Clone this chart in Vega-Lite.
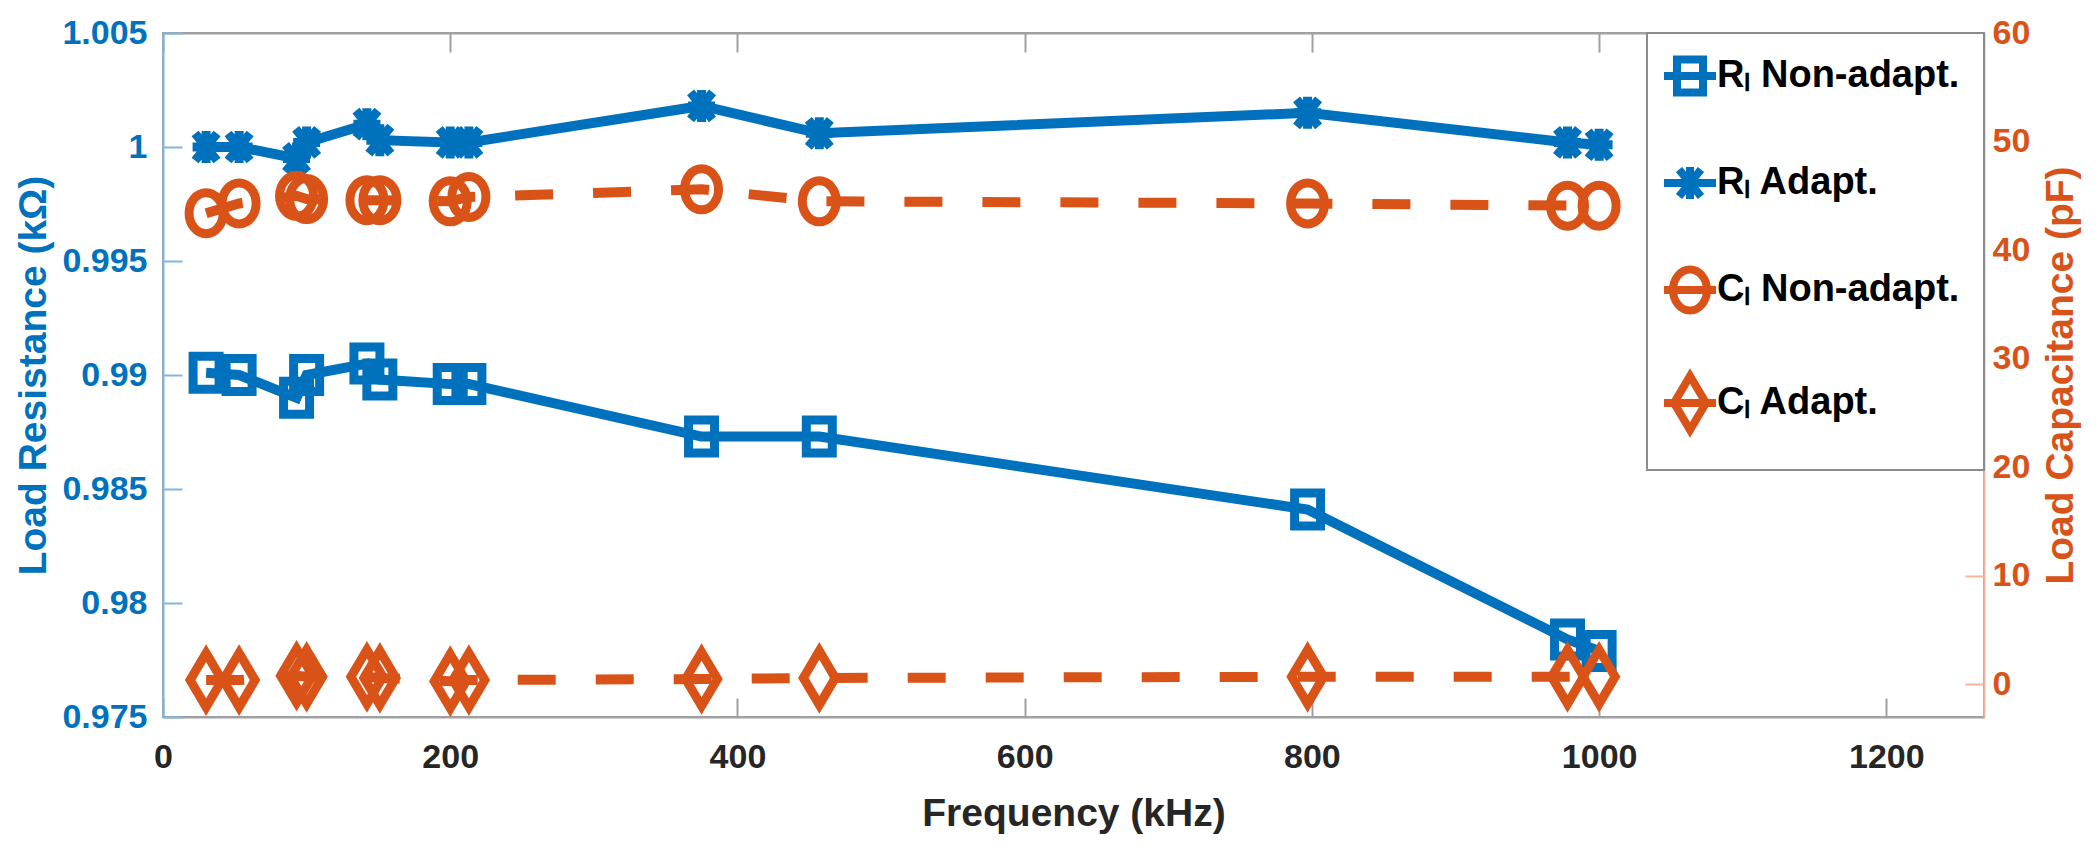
{
  "$schema": "https://vega.github.io/schema/vega-lite/v6.json",
  "width": 1821,
  "height": 684,
  "autosize": {"type": "none"},
  "padding": {"left": 163, "top": 33, "right": 116, "bottom": 133},
  "background": "white",
  "config": {
    "view": {"stroke": "#a0a0a0", "strokeWidth": 2},
    "font": "Liberation Sans",
    "axis": {
      "grid": false,
      "labelFont": "Liberation Sans",
      "labelFontWeight": "bold",
      "labelFontSize": 34,
      "titleFont": "Liberation Sans",
      "titleFontWeight": "bold",
      "titleFontSize": 39,
      "tickSize": -19,
      "tickWidth": 2,
      "domainWidth": 2,
      "labelFlush": false,
      "labelOverlap": false
    },
    "legend": {
      "orient": "top-right",
      "offset": 0,
      "padding": 24,
      "strokeColor": "#8c8c8c",
      "strokeWidth": 2,
      "fillColor": "white",
      "labelFont": "Liberation Sans",
      "labelFontWeight": "bold",
      "labelFontSize": 38,
      "labelColor": "#000000",
      "labelLimit": 500,
      "symbolSize": 400,
      "symbolStrokeWidth": 8,
      "rowPadding": 33,
      "labelOffset": 8
    }
  },
  "data": {
    "values": [
      {"f": 30, "s": "Rₗ Non-adapt.", "v": 0.9901},
      {"f": 53, "s": "Rₗ Non-adapt.", "v": 0.9900},
      {"f": 93, "s": "Rₗ Non-adapt.", "v": 0.9890},
      {"f": 100, "s": "Rₗ Non-adapt.", "v": 0.9900},
      {"f": 142, "s": "Rₗ Non-adapt.", "v": 0.9905},
      {"f": 151, "s": "Rₗ Non-adapt.", "v": 0.9898},
      {"f": 200, "s": "Rₗ Non-adapt.", "v": 0.9896},
      {"f": 213, "s": "Rₗ Non-adapt.", "v": 0.9896},
      {"f": 375, "s": "Rₗ Non-adapt.", "v": 0.9873},
      {"f": 457, "s": "Rₗ Non-adapt.", "v": 0.9873},
      {"f": 797, "s": "Rₗ Non-adapt.", "v": 0.9841},
      {"f": 978, "s": "Rₗ Non-adapt.", "v": 0.9784},
      {"f": 1000, "s": "Rₗ Non-adapt.", "v": 0.9779},
      {"f": 30, "s": "Rₗ Adapt.", "v": 1.0000},
      {"f": 53, "s": "Rₗ Adapt.", "v": 1.0000},
      {"f": 93, "s": "Rₗ Adapt.", "v": 0.9995},
      {"f": 100, "s": "Rₗ Adapt.", "v": 1.0002},
      {"f": 142, "s": "Rₗ Adapt.", "v": 1.0010},
      {"f": 151, "s": "Rₗ Adapt.", "v": 1.0003},
      {"f": 200, "s": "Rₗ Adapt.", "v": 1.0002},
      {"f": 213, "s": "Rₗ Adapt.", "v": 1.0002},
      {"f": 375, "s": "Rₗ Adapt.", "v": 1.0018},
      {"f": 457, "s": "Rₗ Adapt.", "v": 1.0006},
      {"f": 797, "s": "Rₗ Adapt.", "v": 1.0015},
      {"f": 978, "s": "Rₗ Adapt.", "v": 1.0002},
      {"f": 1000, "s": "Rₗ Adapt.", "v": 1.0001},
      {"f": 30, "s": "Cₗ Non-adapt.", "v": 43.4},
      {"f": 53, "s": "Cₗ Non-adapt.", "v": 44.3},
      {"f": 93, "s": "Cₗ Non-adapt.", "v": 45.0},
      {"f": 100, "s": "Cₗ Non-adapt.", "v": 44.7},
      {"f": 142, "s": "Cₗ Non-adapt.", "v": 44.6},
      {"f": 151, "s": "Cₗ Non-adapt.", "v": 44.6},
      {"f": 200, "s": "Cₗ Non-adapt.", "v": 44.5},
      {"f": 213, "s": "Cₗ Non-adapt.", "v": 44.9},
      {"f": 375, "s": "Cₗ Non-adapt.", "v": 45.6},
      {"f": 457, "s": "Cₗ Non-adapt.", "v": 44.5},
      {"f": 797, "s": "Cₗ Non-adapt.", "v": 44.3},
      {"f": 978, "s": "Cₗ Non-adapt.", "v": 44.1},
      {"f": 1000, "s": "Cₗ Non-adapt.", "v": 44.1},
      {"f": 30, "s": "Cₗ Adapt.", "v": 0.4},
      {"f": 53, "s": "Cₗ Adapt.", "v": 0.4},
      {"f": 93, "s": "Cₗ Adapt.", "v": 0.8},
      {"f": 100, "s": "Cₗ Adapt.", "v": 0.7},
      {"f": 142, "s": "Cₗ Adapt.", "v": 0.7},
      {"f": 151, "s": "Cₗ Adapt.", "v": 0.6},
      {"f": 200, "s": "Cₗ Adapt.", "v": 0.3},
      {"f": 213, "s": "Cₗ Adapt.", "v": 0.4},
      {"f": 375, "s": "Cₗ Adapt.", "v": 0.5},
      {"f": 457, "s": "Cₗ Adapt.", "v": 0.6},
      {"f": 797, "s": "Cₗ Adapt.", "v": 0.7},
      {"f": 978, "s": "Cₗ Adapt.", "v": 0.7},
      {"f": 1000, "s": "Cₗ Adapt.", "v": 0.7}
    ]
  },
  "layer": [
    {
      "transform": [{"filter": {"field": "s", "oneOf": ["Rₗ Non-adapt.", "Rₗ Adapt."]}}],
      "layer": [
        {
          "mark": {"type": "line", "color": "#0072BD", "strokeWidth": 10},
          "encoding": {
            "x": {"field": "f", "type": "quantitative", "scale": {"domain": [0, 1268], "nice": false, "zero": false},
              "axis": {"orient": "bottom", "values": [0, 200, 400, 600, 800, 1000, 1200], "format": "d", "title": "Frequency (kHz)", "labelColor": "#262626", "titleColor": "#262626", "domainColor": "#a0a0a0", "tickColor": "#a0a0a0", "labelPadding": 42, "titlePadding": 20}},
            "y": {"field": "v", "type": "quantitative", "scale": {"domain": [0.975, 1.005], "nice": false, "zero": false},
              "axis": {"orient": "left", "values": [0.975, 0.98, 0.985, 0.99, 0.995, 1, 1.005], "format": "~g", "title": "Load Resistance (kΩ)", "labelColor": "#0072BD", "titleColor": "#0072BD", "domainColor": "#80b6e0", "tickColor": "#80b6e0", "labelPadding": 35, "titlePadding": 8}},
            "detail": {"field": "s"}
          }
        },
        {
          "mark": {"type": "point", "filled": false, "strokeWidth": 9, "size": 400, "opacity": 1},
          "encoding": {
            "x": {"field": "f", "type": "quantitative"},
            "y": {"field": "v", "type": "quantitative"},
            "color": {"field": "s", "type": "nominal",
              "scale": {"domain": ["Rₗ Non-adapt.", "Rₗ Adapt.", "Cₗ Non-adapt.", "Cₗ Adapt."], "range": ["#0072BD", "#0072BD", "#D95319", "#D95319"]},
              "legend": {"title": null, "symbolType": {"expr": "datum.value === 'Rₗ Non-adapt.' ? 'M-1.3,-1.65H1.3V1.65H-1.3ZM-2.6,0H2.6M0,-2.1M0,2.1' : datum.value === 'Rₗ Adapt.' ? 'M-1.35,0H1.35M0,-1.6V1.6M-1.1,-1.35L1.1,1.35M-1.1,1.35L1.1,-1.35M-2.6,0H2.6M0,-2.1M0,2.1' : datum.value === 'Cₗ Non-adapt.' ? 'M-1.7,0A1.7,2.05,0,1,1,1.7,0A1.7,2.05,0,1,1,-1.7,0ZM-2.6,0H2.6M0,-2.1M0,2.1' : 'M0,-2.7L1.6,0L0,2.7L-1.6,0ZM-2.6,0H2.6'"}}},
            "shape": {"condition": {"test": "datum.s === 'Rₗ Adapt.'", "value": "M-1.35,0H1.35M0,-1.6V1.6M-1.1,-1.35L1.1,1.35M-1.1,1.35L1.1,-1.35"}, "value": "M-1.3,-1.65H1.3V1.65H-1.3Z"}
          }
        }
      ]
    },
    {
      "transform": [{"filter": {"field": "s", "oneOf": ["Cₗ Non-adapt.", "Cₗ Adapt."]}}],
      "layer": [
        {
          "mark": {"type": "line", "color": "#D95319", "strokeWidth": 10, "strokeDash": [38, 40]},
          "encoding": {
            "x": {"field": "f", "type": "quantitative",
              "axis": {"orient": "top", "values": [0, 200, 400, 600, 800, 1000, 1200], "labels": false, "title": null, "domainColor": "#a0a0a0", "tickColor": "#a0a0a0"}},
            "y": {"field": "v", "type": "quantitative", "scale": {"domain": [-3, 60], "nice": false, "zero": false},
              "axis": {"orient": "right", "values": [0, 10, 20, 30, 40, 50, 60], "title": "Load Capacitance (pF)", "titleAngle": 270, "titleBaseline": "top", "labelColor": "#D95319", "titleColor": "#D95319", "domainColor": "#f2b59b", "tickColor": "#f2b59b", "labelPadding": 27, "titlePadding": 12}},
            "detail": {"field": "s"}
          }
        },
        {
          "mark": {"type": "point", "filled": false, "strokeWidth": 9, "size": 400, "opacity": 1},
          "encoding": {
            "x": {"field": "f", "type": "quantitative"},
            "y": {"field": "v", "type": "quantitative"},
            "color": {"field": "s", "type": "nominal",
              "legend": {"title": null, "symbolType": {"expr": "datum.value === 'Rₗ Non-adapt.' ? 'M-1.3,-1.65H1.3V1.65H-1.3ZM-2.6,0H2.6M0,-2.1M0,2.1' : datum.value === 'Rₗ Adapt.' ? 'M-1.35,0H1.35M0,-1.6V1.6M-1.1,-1.35L1.1,1.35M-1.1,1.35L1.1,-1.35M-2.6,0H2.6M0,-2.1M0,2.1' : datum.value === 'Cₗ Non-adapt.' ? 'M-1.7,0A1.7,2.05,0,1,1,1.7,0A1.7,2.05,0,1,1,-1.7,0ZM-2.6,0H2.6M0,-2.1M0,2.1' : 'M0,-2.7L1.6,0L0,2.7L-1.6,0ZM-2.6,0H2.6'"}}},
            "shape": {"condition": {"test": "datum.s === 'Cₗ Adapt.'", "value": "M0,-2.7L1.6,0L0,2.7L-1.6,0Z"}, "value": "M-1.7,0A1.7,2.05,0,1,1,1.7,0A1.7,2.05,0,1,1,-1.7,0Z"}
          }
        }
      ]
    }
  ],
  "resolve": {"scale": {"y": "independent"}, "axis": {"x": "independent"}}
}
